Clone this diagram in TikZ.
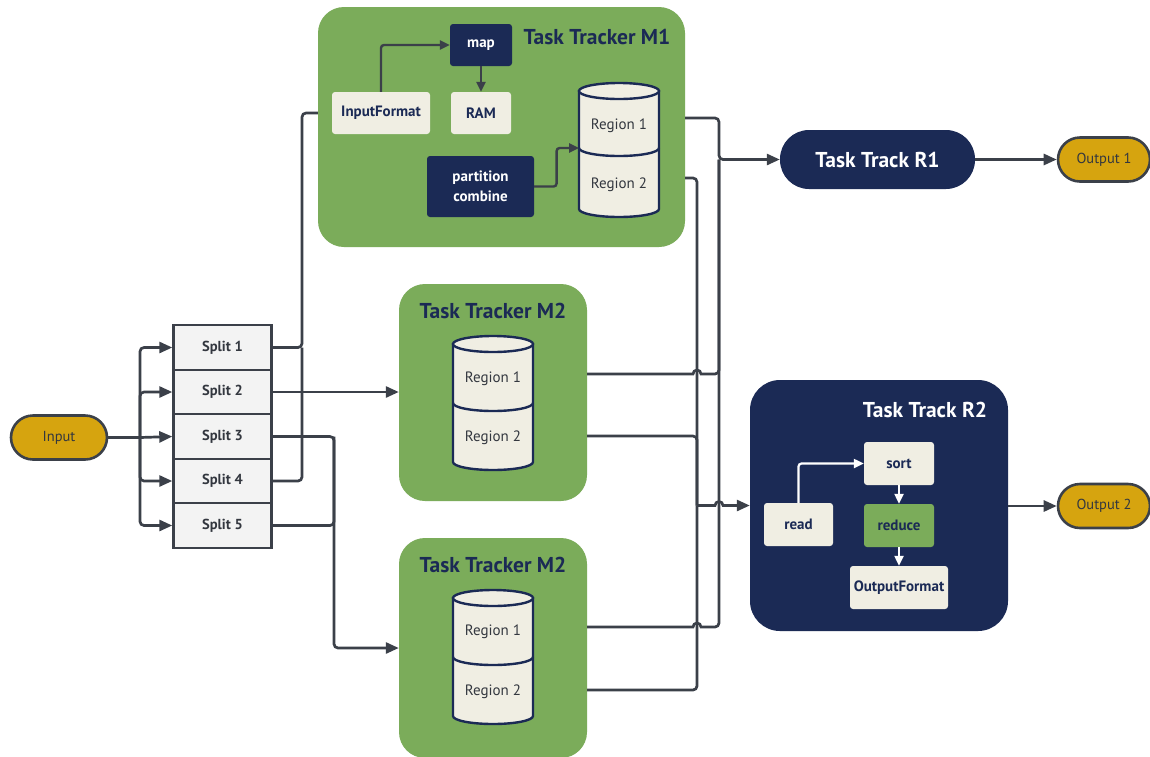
\documentclass[tikz,border=0pt]{standalone}
\usepackage{fontspec}
\setmainfont{PT Sans}
\usetikzlibrary{arrows.meta,calc}

\definecolor{leaf}{HTML}{7BAC5A}
\definecolor{navy}{HTML}{1B2A55}
\definecolor{cream}{HTML}{F0EEE3}
\definecolor{gold}{HTML}{D6A40F}
\definecolor{wire}{HTML}{3B4049}
\definecolor{slate}{HTML}{33373F}
\definecolor{paper}{HTML}{F3F3F3}

\tikzset{
  wireline/.style={draw=wire, line width=2.7pt},
  arr/.style={wireline, -{Triangle[length=13pt,width=11pt]}},
  arrsm/.style={draw=wire, line width=2.4pt, -{Triangle[length=10pt,width=9pt]}},
  arrw/.style={draw=white, line width=2.2pt, -{Triangle[length=10pt,width=9pt]}},
  tracker/.style={fill=leaf, rounded corners=26pt, inner sep=0pt},
  reducer/.style={fill=navy, rounded corners=30pt, inner sep=0pt},
  title/.style={font=\fontsize{21.5}{25}\selectfont\bfseries, text=navy, inner sep=0pt},
  card/.style={fill=cream, rounded corners=3pt, text=navy, inner sep=0pt,
    font=\fontsize{15}{18}\selectfont\bfseries},
  darkcard/.style={fill=navy, rounded corners=3pt, text=white, inner sep=0pt,
    align=center, font=\fontsize{15}{20}\selectfont\bfseries},
  greencard/.style={card, fill=leaf},
  splitbox/.style={fill=paper, draw=wire, line width=2.4pt, minimum width=98pt,
    minimum height=44.5pt, text=slate, font=\fontsize{14.5}{17}\selectfont\bfseries},
  terminal/.style={fill=gold, draw=wire, line width=2.6pt, rounded corners=22pt,
    minimum width=96pt, minimum height=44pt, text=slate,
    font=\fontsize{14.5}{17}\selectfont},
  regionlabel/.style={text=slate, inner sep=0pt, font=\fontsize{15}{18}\selectfont},
  drum/.style={fill=cream, draw=navy, line width=2.4pt},
}

% storage drum: centre x, top ellipse y, divider y, bottom ellipse y
\newcommand\drawdrum[4]{%
  \path[drum] (#1-40,#2) -- (#1-40,#4)
    arc[start angle=180,end angle=360,x radius=40pt,y radius=8pt]
    -- (#1+40,#2) -- cycle;
  \path[drum] (#1,#2) ellipse[x radius=40pt,y radius=8pt];
  \draw[navy,line width=2.4pt] (#1-40,#3)
    arc[start angle=180,end angle=360,x radius=40pt,y radius=8pt];
}

\begin{document}
\begin{tikzpicture}[x=1pt,y=-1pt]
\useasboundingbox (0,0) rectangle (1150,756);
\fill[white] (0,0) rectangle (1150,756);

% ---------- containers ----------
\node[tracker, minimum width=367pt, minimum height=240pt] (m1) at (501.5,127) {};
\node[tracker, minimum width=188pt, minimum height=217pt] (m2) at (493,392.5) {};
\node[tracker, minimum width=188pt, minimum height=220pt] (m3) at (493,648) {};
\node[reducer, minimum width=258pt, minimum height=251pt] (r2) at (879,505.5) {};

\node[title] (m1title) at (597,37) {Task Tracker M1};
\node[title] (m2title) at (493,311) {Task Tracker M2};
\node[title] (m3title) at (493,565) {Task Tracker M2};
\node[title, text=white] (r2title) at (925,410) {Task Track R2};

% ---------- input and splits ----------
\node[terminal] (input) at (59,437.5) {Input};
\node[splitbox] (split1) at (222.5,347.5) {Split 1};
\node[splitbox] (split2) at (222.5,392) {Split 2};
\node[splitbox] (split3) at (222.5,436.5) {Split 3};
\node[splitbox] (split4) at (222.5,481) {Split 4};
\node[splitbox] (split5) at (222.5,525.5) {Split 5};

% ---------- M1 internals ----------
\node[card, minimum width=98pt, minimum height=42pt] (ifmt) at (381,113) {InputFormat};
\node[darkcard, minimum width=62pt, minimum height=42pt] (map) at (481,45) {map};
\node[card, minimum width=60pt, minimum height=42pt] (ram) at (481,113) {RAM};
\node[darkcard, minimum width=107pt, minimum height=61pt] (part) at (480.5,186.5) {partition\\combine};
\drawdrum{619}{91}{148}{209}
\node[regionlabel] (m1r1) at (619,126) {Region 1};
\node[regionlabel] (m1r2) at (619,185) {Region 2};
\coordinate (d1w) at (579,148);

\draw[arrsm, rounded corners=3pt] (ifmt.north) |- (map.west);
\draw[arrsm] (map.south) -- (ram.north);
\draw[arrsm, rounded corners=3pt] (part.east) -| ($(part.east)!0.5!(d1w)$) |- (d1w);

% ---------- M2 / M3 drums ----------
\drawdrum{493}{344}{403}{462}
\node[regionlabel] (m2r1) at (493,379) {Region 1};
\node[regionlabel] (m2r2) at (493,438) {Region 2};
\drawdrum{493}{598}{657}{716}
\node[regionlabel] (m3r1) at (493,632) {Region 1};
\node[regionlabel] (m3r2) at (493,692) {Region 2};

% ---------- reducers and outputs ----------
\node[reducer, rounded corners=29pt, minimum width=195pt, minimum height=59pt,
      text=white, font=\fontsize{21.5}{25}\selectfont\bfseries] (r1) at (877.5,159.5) {Task Track R1};
\node[terminal, minimum width=92pt] (out1) at (1104,159.5) {Output 1};
\node[terminal, minimum width=92pt] (out2) at (1104,506) {Output 2};

\node[card, minimum width=70pt, minimum height=43pt] (sort) at (899,463.5) {sort};
\node[card, minimum width=69pt, minimum height=43pt] (read) at (798.5,524.5) {read};
\node[greencard, minimum width=70pt, minimum height=43pt] (reduce) at (899,525.5) {reduce};
\node[card, minimum width=98pt, minimum height=43pt] (ofmt) at (899,587.5) {OutputFormat};

\draw[arrw, rounded corners=3pt] (read.north) |- (sort.west);
\draw[arrw] (sort.south) -- (reduce.north);
\draw[arrw] (reduce.south) -- (ofmt.north);

% ---------- input fan-out ----------
\coordinate (fan) at (140,437.5);
\draw[wireline] (input.east) -- (fan);
\draw[arr, rounded corners=4pt] (fan) |- (split1.west);
\draw[arr, rounded corners=4pt] (fan) |- (split2.west);
\draw[arr] (fan) -- (split3.west);
\draw[arr, rounded corners=4pt] (fan) |- (split4.west);
\draw[arr, rounded corners=4pt] (fan) |- (split5.west);

% ---------- splits to map trackers ----------
\coordinate (busL) at (302,0);
\coordinate (busM) at (334,0);
\draw[wireline, rounded corners=4pt] (split1.east) -| (busL |- ifmt) -- (m1.west |- ifmt);
\draw[wireline, rounded corners=4pt] (split4.east) -| (busL |- split1);
\draw[arr] (split2.east) -- (m2.west |- split2);
\draw[arr, rounded corners=4pt] (split3.east) -| (busM |- m3) -- (m3.west);
\draw[wireline, rounded corners=4pt] (split5.east) -| (busM |- split3);

% ---------- map trackers to reduce trackers ----------
\coordinate (busA) at (719,0);
\coordinate (busB) at (697,0);
\coordinate (m1o1) at (685,118);
\coordinate (m1o2) at (685,178);
\coordinate (m2o1) at (587,374);
\coordinate (m2o2) at (587,436);
\coordinate (m3o1) at (587,627);
\coordinate (m3o2) at (587,690);

\draw[wireline, rounded corners=4pt] (m1o2) -| (busB |- r2);
\draw[wireline, rounded corners=4pt] (m2o2) -| (busB |- r2);
\draw[wireline, rounded corners=4pt] (m3o2) -| (busB |- r2);

\draw[arr, rounded corners=4pt] (m1o1) -| (busA |- r1) -- (r1.west);
\draw[wireline] (m2o1) -- ($(busB |- m2o1)+(-4,0)$)
  arc[start angle=180,end angle=0,radius=4pt]
  [rounded corners=4pt] -| (busA |- r1);
\draw[wireline] (m3o1) -- ($(busB |- m3o1)+(-4,0)$)
  arc[start angle=180,end angle=0,radius=4pt]
  [rounded corners=4pt] -| (busA |- r1);

\draw[arr] (busB |- r2) -- ($(busA |- r2)+(-4,0)$)
  arc[start angle=180,end angle=0,radius=4pt] -- (r2.west);

\draw[arr] (r1.east) -- (out1.west);
\draw[arr] (r2.east |- out2) -- (out2.west);
\end{tikzpicture}
\end{document}
